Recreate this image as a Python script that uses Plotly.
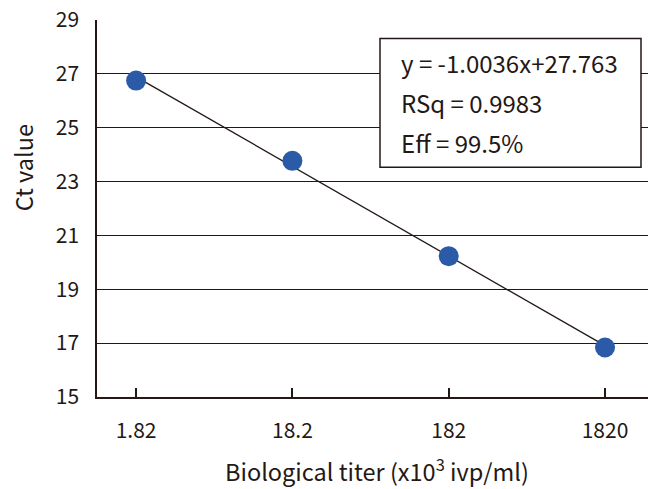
import numpy as np
import plotly.graph_objects as go

titers = [1.82, 18.2, 182, 1820]
tick_labels = ["1.82", "18.2", "182", "1820"]
ct_values = [26.75, 23.77, 20.23, 16.84]
y_ticks = [15, 17, 19, 21, 23, 25, 27, 29]
box_lines = ["y = -1.0036x+27.763", "RSq = 0.9983", "Eff = 99.5%"]

INK = "#231815"
FONT = "Noto Sans CJK JP"

lx = np.log10(titers)
slope, icpt = np.polyfit(lx, ct_values, 1)
fit_x = [titers[0], titers[-1]]
fit_y = [slope * np.log10(v) + icpt for v in fit_x]

fig = go.Figure()
fig.add_trace(go.Scatter(x=fit_x, y=fit_y, mode="lines",
                         line=dict(color=INK, width=1.3), showlegend=False))
fig.add_trace(go.Scatter(x=titers, y=ct_values, mode="markers",
                         marker=dict(color="#2a5aa8", size=20, line=dict(width=0)),
                         showlegend=False))

W, H = 648, 489
L, R, T, B = 97, 0, 19.5, 92
pw, ph = W - L - R, H - T - B

def px(x):
    return (x - L) / pw

def py(y):
    return (H - B - y) / ph

fig.update_layout(
    width=W, height=H,
    margin=dict(l=L, r=R, t=T, b=B),
    paper_bgcolor="white", plot_bgcolor="white",
    font=dict(family=FONT, color=INK, size=21),
    xaxis=dict(type="log", range=[0.01, 3.535], tickvals=titers, ticktext=tick_labels,
               showgrid=False, zeroline=False, showline=True, linecolor=INK, linewidth=1.5,
               ticks="inside", ticklen=9, tickwidth=1.5, tickcolor=INK,
               ticklabelstandoff=14, tickfont=dict(size=21)),
    yaxis=dict(range=[15, 29], tickvals=y_ticks, showgrid=True, gridcolor=INK, gridwidth=1.3,
               zeroline=False, showline=True, linecolor=INK, linewidth=1.5,
               ticks="", ticklabelstandoff=12, tickfont=dict(size=21)),
    shapes=[dict(type="rect", xref="paper", yref="paper",
                 x0=px(380), x1=px(641), y0=py(167), y1=py(38),
                 line=dict(color=INK, width=1.5), fillcolor="white", layer="above")],
)

annots = []
for i, t in enumerate(box_lines):
    annots.append(dict(text=t, xref="paper", yref="paper", x=px(399), y=py(62 + 40 * i),
                       xanchor="left", yanchor="middle", showarrow=False,
                       font=dict(size=24, color=INK, family=FONT)))
annots.append(dict(text="Biological titer (x10<sup>3</sup> ivp/ml)", xref="paper", yref="paper",
                   x=px(377), y=py(470), xanchor="center", yanchor="middle", showarrow=False,
                   font=dict(size=23.5, color=INK, family=FONT)))
annots.append(dict(text="Ct value", xref="paper", yref="paper", x=px(23), y=py(168),
                   xanchor="center", yanchor="middle", textangle=-90, showarrow=False,
                   font=dict(size=23.5, color=INK, family=FONT)))
fig.update_layout(annotations=annots)

fig.write_html("out.html")
